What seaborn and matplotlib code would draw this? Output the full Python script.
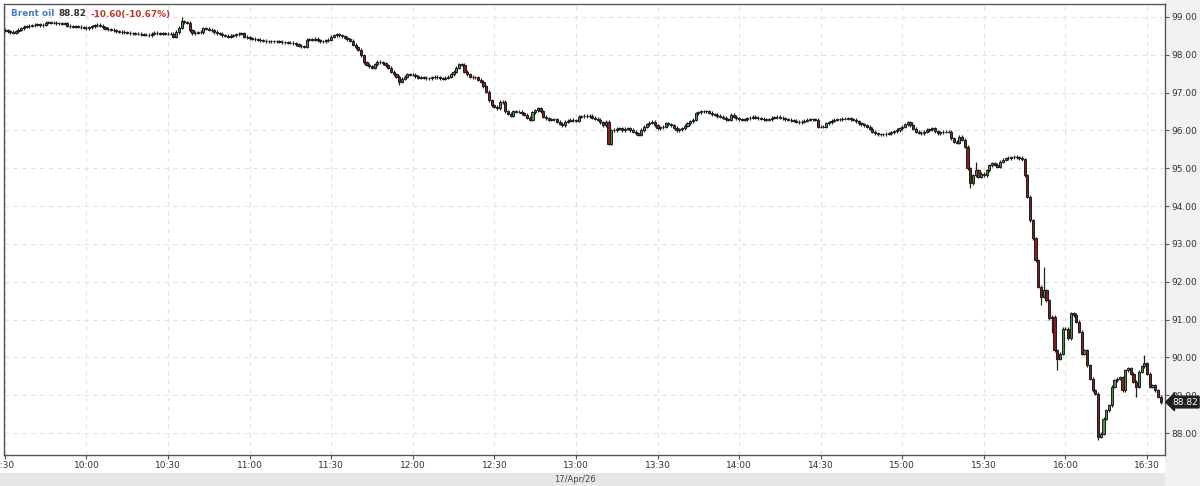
import matplotlib
matplotlib.use('Agg')
import numpy as np
import pandas as pd
import seaborn as sns
import matplotlib.pyplot as plt
from matplotlib.patches import Rectangle

# one-minute closes, 9:30 -> 16:35
MINUTE_CLOSE = [
    98.64, 98.62, 98.60, 98.58, 98.62, 98.66, 98.70, 98.74, 98.75, 98.77,
    98.78, 98.79, 98.80, 98.78, 98.79, 98.84, 98.86, 98.85, 98.84, 98.83,
    98.83, 98.82, 98.83, 98.76, 98.75, 98.74, 98.75, 98.74, 98.72, 98.71,
    98.70, 98.72, 98.75, 98.78, 98.79, 98.76, 98.72, 98.69, 98.67, 98.66,
    98.64, 98.62, 98.61, 98.60, 98.59, 98.58, 98.57, 98.57, 98.56, 98.55,
    98.54, 98.53, 98.53, 98.52, 98.55, 98.58, 98.57, 98.56, 98.57, 98.56,
    98.55, 98.55, 98.48, 98.60, 98.71, 98.88, 98.86, 98.84, 98.64, 98.57,
    98.58, 98.59, 98.60, 98.70, 98.68, 98.66, 98.64, 98.60, 98.57, 98.55,
    98.52, 98.50, 98.48, 98.50, 98.52, 98.54, 98.55, 98.57, 98.48, 98.46,
    98.44, 98.42, 98.41, 98.39, 98.38, 98.37, 98.36, 98.35, 98.36, 98.35,
    98.35, 98.34, 98.33, 98.33, 98.32, 98.31, 98.30, 98.27, 98.24, 98.22,
    98.21, 98.39, 98.41, 98.40, 98.42, 98.38, 98.35, 98.36, 98.38, 98.39,
    98.48, 98.52, 98.54, 98.52, 98.49, 98.45, 98.41, 98.37, 98.26, 98.20,
    98.13, 97.99, 97.80, 97.73, 97.70, 97.66, 97.75, 97.82, 97.80, 97.78,
    97.72, 97.66, 97.55, 97.48, 97.42, 97.29, 97.36, 97.42, 97.48, 97.47,
    97.47, 97.43, 97.39, 97.40, 97.39, 97.38, 97.38, 97.40, 97.42, 97.40,
    97.38, 97.36, 97.39, 97.42, 97.48, 97.55, 97.65, 97.75, 97.73, 97.55,
    97.48, 97.42, 97.41, 97.40, 97.34, 97.29, 97.16, 97.02, 96.80, 96.67,
    96.62, 96.58, 96.76, 96.75, 96.50, 96.44, 96.39, 96.50, 96.49, 96.49,
    96.45, 96.41, 96.34, 96.28, 96.48, 96.53, 96.58, 96.50, 96.36, 96.32,
    96.28, 96.29, 96.30, 96.23, 96.18, 96.14, 96.23, 96.26, 96.28, 96.27,
    96.26, 96.36, 96.37, 96.38, 96.39, 96.38, 96.34, 96.31, 96.28, 96.21,
    96.14, 96.23, 95.65, 96.00, 96.01, 96.04, 96.06, 96.01, 96.04, 96.06,
    96.01, 95.97, 95.92, 95.88, 96.01, 96.09, 96.16, 96.20, 96.23, 96.14,
    96.05, 96.08, 96.10, 96.19, 96.16, 96.14, 96.07, 96.01, 96.03, 96.05,
    96.12, 96.19, 96.24, 96.28, 96.45, 96.48, 96.50, 96.51, 96.51, 96.47,
    96.43, 96.41, 96.38, 96.36, 96.33, 96.30, 96.28, 96.41, 96.36, 96.32,
    96.30, 96.28, 96.30, 96.32, 96.34, 96.36, 96.34, 96.32, 96.31, 96.30,
    96.28, 96.30, 96.33, 96.35, 96.36, 96.34, 96.32, 96.30, 96.28, 96.27,
    96.25, 96.23, 96.21, 96.23, 96.25, 96.28, 96.30, 96.29, 96.28, 96.10,
    96.10, 96.10, 96.19, 96.22, 96.25, 96.28, 96.29, 96.30, 96.31, 96.31,
    96.32, 96.30, 96.28, 96.24, 96.19, 96.16, 96.13, 96.10, 96.04, 95.97,
    95.93, 95.90, 95.90, 95.90, 95.91, 95.92, 95.95, 95.98, 96.01, 96.05,
    96.10, 96.16, 96.21, 96.14, 96.04, 95.97, 95.94, 95.92, 95.97, 96.01,
    96.03, 96.05, 95.98, 95.92, 95.95, 95.97, 95.97, 95.97, 95.79, 95.70,
    95.67, 95.83, 95.75, 95.57, 95.00, 94.60, 94.82, 94.95, 94.78, 94.86,
    94.82, 94.95, 95.08, 95.13, 95.09, 95.04, 95.17, 95.22, 95.26, 95.27,
    95.29, 95.30, 95.29, 95.27, 95.24, 94.82, 94.25, 93.63, 93.15, 92.57,
    91.87, 91.60, 91.78, 91.51, 91.03, 91.07, 90.19, 89.97, 90.10, 90.76,
    90.76, 90.50, 91.16, 91.12, 90.94, 90.68, 90.10, 90.19, 89.79, 89.44,
    89.13, 89.04, 87.90, 87.98, 88.38, 88.60, 88.74, 89.22, 89.40, 89.44,
    89.48, 89.13, 89.66, 89.71, 89.57, 89.35, 89.22, 89.62, 89.77, 89.84,
    89.57, 89.22, 89.26, 89.13, 88.96, 88.82,
]
FIRST_OPEN = 98.66

# long wicks visible on the chart (minute index -> price)
HIGH_WICKS = {65: 99.00, 357: 95.17, 382: 92.39, 419: 90.06}
LOW_WICKS = {62: 98.45, 145: 97.20, 222: 95.61, 355: 94.48, 381: 91.38,
             385: 90.64, 387: 89.66, 402: 87.81, 416: 88.96}

Y_TICKS = [88, 89, 90, 91, 92, 93, 94, 95, 96, 97, 98, 99]
X_TICK_LABELS = ['9:30', '10:00', '10:30', '11:00', '11:30', '12:00', '12:30', '13:00',
                 '13:30', '14:00', '14:30', '15:00', '15:30', '16:00', '16:30']

INSTRUMENT = 'Brent oil'
LAST_PRICE = '88.82'
CHANGE_TEXT = '-10.60(-10.67%)'
DATE_LABEL = '17/Apr/26'

GREEN = '#3f9a3f'
RED = '#8c1c1c'
EDGE = '#1c1c1c'
WICK_PAD = 0.04

if __name__ == '__main__':
    sns.set_style('whitegrid', {'grid.color': '#e2e2e2', 'grid.linestyle': (0, (4, 4)),
                                'axes.edgecolor': '#555555'})
    plt.rcParams['font.family'] = ['DejaVu Sans']

    close = np.array(MINUTE_CLOSE)
    minute = np.arange(len(close))
    open_ = np.r_[FIRST_OPEN, close[:-1]]
    high = np.maximum(open_, close) + WICK_PAD
    low = np.minimum(open_, close) - WICK_PAD
    for m, v in HIGH_WICKS.items():
        high[m] = max(high[m], v)
    for m, v in LOW_WICKS.items():
        low[m] = min(low[m], v)

    df = pd.DataFrame({'minute': minute, 'open': open_, 'close': close,
                       'high': high, 'low': low})
    df['bottom'] = df[['open', 'close']].min(axis=1)
    df['body'] = (df['close'] - df['open']).abs()
    up = df[df['close'] >= df['open']]
    down = df[df['close'] < df['open']]

    fig = plt.figure(figsize=(12, 4.86), dpi=100)
    fig.patch.set_facecolor('white')
    ax = fig.add_axes([4 / 1200, 31 / 486, 1161 / 1200, 451 / 486])

    # grey strips round the plot
    fig.add_artist(Rectangle((1165 / 1200, 0), 35 / 1200, 1, transform=fig.transFigure,
                             facecolor='#f2f2f2', edgecolor='none', zorder=0))
    fig.add_artist(Rectangle((0, 0), 1165 / 1200, 13 / 486, transform=fig.transFigure,
                             facecolor='#e6e6e6', edgecolor='none', zorder=0))

    ax.vlines(df['minute'], df['low'], df['high'], color='#222222', linewidth=0.9, zorder=2)
    for part, colour in ((up, GREEN), (down, RED)):
        sns.barplot(data=part, x='minute', y='body', native_scale=True,
                    bottom=part['bottom'].to_numpy(), color=colour, saturation=1,
                    edgecolor=EDGE, linewidth=0.7, width=0.8, errorbar=None,
                    ax=ax, zorder=3)

    ax.set_xlim(-0.3, 426.6)
    ax.set_ylim(87.42, 99.34)
    ax.set_xlabel('')
    ax.set_ylabel('')

    ax.yaxis.tick_right()
    ax.set_yticks(Y_TICKS)
    ax.set_yticklabels(['{:.2f}'.format(v) for v in Y_TICKS])
    ax.set_xticks([30 * i for i in range(len(X_TICK_LABELS))])
    ax.set_xticklabels(X_TICK_LABELS)
    ax.tick_params(axis='both', which='major', direction='out', length=3, width=0.8,
                   color='#555555', labelsize=6.5, labelcolor='#333333', pad=1.5)
    ax.tick_params(axis='y', right=True, left=False)
    ax.tick_params(axis='x', bottom=True)
    ax.grid(True, color='#e2e2e2', linestyle=(0, (4, 4)), linewidth=0.8)
    for s in ax.spines.values():
        s.set_visible(True)
        s.set_color('#555555')
        s.set_linewidth(1)

    # header: three pieces laid out one after another
    renderer = fig.canvas.get_renderer()
    ty = 1 - 14 / 486
    x_px = 11
    for txt, col in ((INSTRUMENT, '#4a78c4'), (LAST_PRICE, '#333333'), (CHANGE_TEXT, '#c0392b')):
        t = fig.text(x_px / 1200, ty, txt, color=col, fontsize=6.4, fontweight='bold', va='center')
        x_px = t.get_window_extent(renderer).x1 + 4

    # last price tag
    ax.text(1.006, float(LAST_PRICE), LAST_PRICE, transform=ax.get_yaxis_transform(),
            color='white', fontsize=6.5, ha='left', va='center', zorder=5, clip_on=False,
            bbox=dict(boxstyle='larrow,pad=0.15', facecolor='#1e1e1e', edgecolor='#1e1e1e'))

    fig.text(575 / 1200, 7 / 486, DATE_LABEL, color='#444444', fontsize=6, ha='center', va='center')

    plt.savefig('out.png', dpi=100)
